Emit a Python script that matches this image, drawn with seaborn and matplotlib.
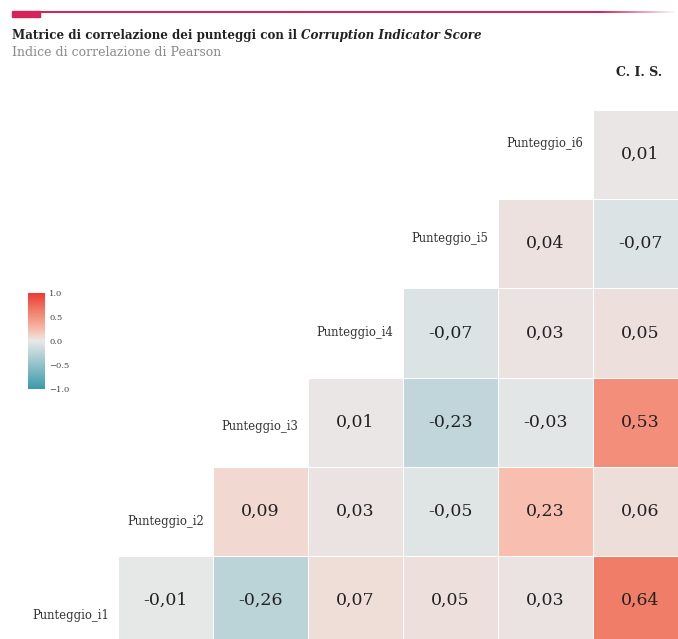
import numpy as np
import pandas as pd
import matplotlib
matplotlib.use("Agg")
import matplotlib.pyplot as plt
from matplotlib.colors import LinearSegmentedColormap
from matplotlib.patches import Rectangle
import seaborn as sns

sns.set_theme(style='white')
plt.rcParams['font.family'] = ['DejaVu Serif']

# Punteggi (righe, dal basso verso l'alto nel grafico) e colonne
righe = ['Punteggio_i1', 'Punteggio_i2', 'Punteggio_i3', 'Punteggio_i4', 'Punteggio_i5', 'Punteggio_i6']
colonne = ['Punteggio_i1', 'Punteggio_i2', 'Punteggio_i3', 'Punteggio_i4', 'Punteggio_i5', 'Punteggio_i6', 'C. I. S.']

# Correlazioni: per ogni riga i valori delle colonne successive (fino al C.I.S.)
corr_i1 = [-0.01, -0.26, 0.07, 0.05, 0.03, 0.64]
corr_i2 = [0.09, 0.03, -0.05, 0.23, 0.06]
corr_i3 = [0.01, -0.23, -0.03, 0.53]
corr_i4 = [-0.07, 0.03, 0.05]
corr_i5 = [0.04, -0.07]
corr_i6 = [0.01]

valori = [corr_i1, corr_i2, corr_i3, corr_i4, corr_i5, corr_i6]

mat = np.full((len(righe), len(colonne)), np.nan)
for i, v in enumerate(valori):
    mat[i, i + 1:] = v
df = pd.DataFrame(mat, index=righe, columns=colonne)
df = df.iloc[::-1]  # i6 in alto

annot = df.map(lambda v: '' if np.isnan(v) else f'{v:.2f}'.replace('.', ','))

cmap = LinearSegmentedColormap.from_list('corr', [
    (0.00, '#3a9aab'),
    (0.50, '#e8e8e8'),
    (0.55, '#f2d7d0'),
    (0.62, '#f8bcae'),
    (0.77, '#f28c78'),
    (0.82, '#f07d68'),
    (1.00, '#ee3a34'),
])

W, H = 678, 639
fig = plt.figure(figsize=(W / 100, H / 100), dpi=100)

ax = fig.add_axes([22.9 / W, 1 - 645 / H, 664.6 / W, 535 / H])
cax = fig.add_axes([28 / W, 1 - 389 / H, 17 / W, 96 / H])

sns.heatmap(df, ax=ax, cmap=cmap, vmin=-1, vmax=1, annot=annot.values, fmt='',
            annot_kws={'fontsize': 12.5, 'color': '#222222'},
            linewidths=0.4, linecolor='white', cbar_ax=cax,
            cbar_kws={'ticks': [-1, -0.5, 0, 0.5, 1]})
ax.set_xticks([])
ax.set_yticks([])
ax.set_xlabel('')
ax.set_ylabel('')
for s in ax.spines.values():
    s.set_visible(False)

# etichette sulla diagonale
n = len(righe)
ypos = np.linspace(0.38, 5.67, n)
for k, nome in enumerate(df.index):
    col = colonne.index(nome)
    ax.text(col + 0.5, ypos[k], nome, ha='center', va='center', fontsize=8.4, color='#333333')

# colorbar
cax.tick_params(labelsize=6, length=0, pad=3, colors='#444444')
cax.set_yticklabels(['\u22121.0', '\u22120.5', '0.0', '0.5', '1.0'])
ax.collections[0].colorbar.outline.set_visible(False)

# titolo
rend = fig.canvas.get_renderer()
t1 = fig.text(12 / W, 1 - 35 / H, 'Matrice di correlazione dei punteggi con il ',
              fontsize=8.6, fontweight='bold', color='#222222', va='center')
bb = t1.get_window_extent(rend)
fig.text(bb.x1 / W, 1 - 35 / H, 'Corruption Indicator Score', fontsize=8.6,
         fontweight='bold', fontstyle='italic', color='#222222', va='center')
fig.text(12 / W, 1 - 52 / H, 'Indice di correlazione di Pearson', fontsize=9,
         color='#8a8a8a', va='center')
fig.text(639 / W, 1 - 72 / H, 'C. I. S.', fontsize=9, fontweight='bold',
         color='#222222', ha='center', va='center')

# barra decorativa in alto
fig.patches.append(Rectangle((12 / W, 1 - 17 / H), 28 / W, 6 / H, transform=fig.transFigure,
                             color='#d6245a', zorder=5))
lax = fig.add_axes([40 / W, 1 - 12.8 / H, (W - 40) / W, 1.4 / H])
grad = np.ones((1, 300, 4))
grad[..., :3] = matplotlib.colors.to_rgb('#d6245a')
grad[0, :, 3] = np.clip((1 - np.linspace(0, 1, 300)) / 0.12, 0, 1)
lax.imshow(grad, aspect='auto')
lax.axis('off')

fig.savefig('out.png', dpi=100)
